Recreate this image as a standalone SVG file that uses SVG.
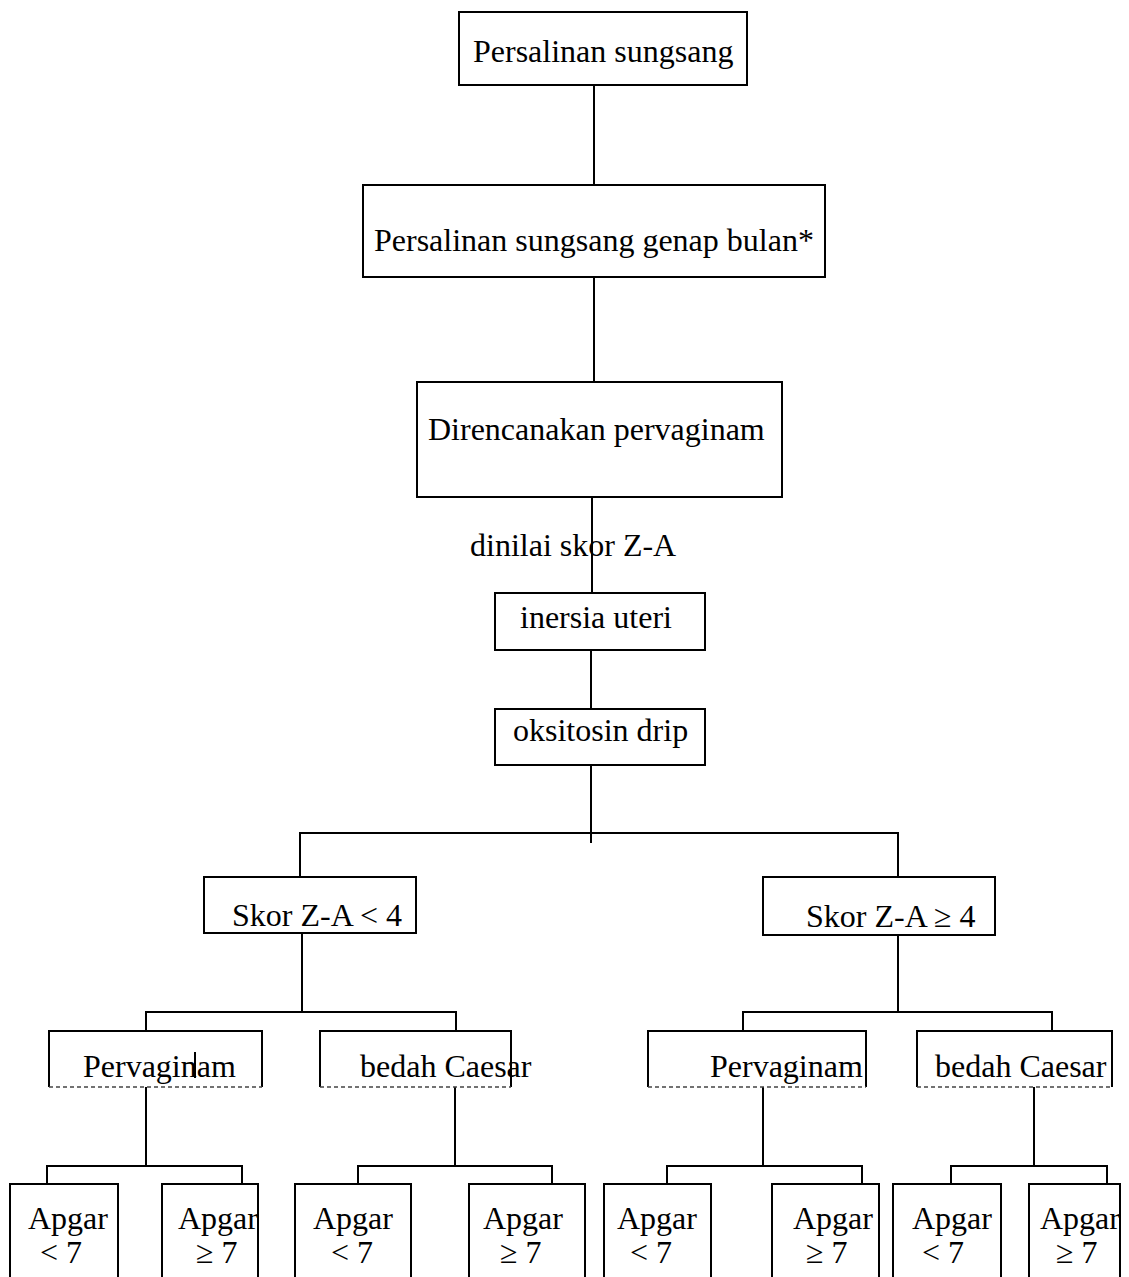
<svg xmlns="http://www.w3.org/2000/svg" width="1129" height="1277" viewBox="0 0 1129 1277">
  <style>
    .box { fill: #fff; stroke: #000; stroke-width: 2; }
    .open { fill: none; stroke: #000; stroke-width: 2; }
    .faint { fill: none; stroke: #444; stroke-width: 1.3; stroke-dasharray: 4 3; }
    .wire { fill: none; stroke: #000; stroke-width: 2; }
    text { font-family: "Liberation Serif", "Times New Roman", serif; font-size: 32px; fill: #000; }
  </style>
  <rect width="1129" height="1277" fill="#fff"/>

  <!-- connectors -->
  <g id="connectors">
    <path class="wire" d="M594 85 V185"/>
    <path class="wire" d="M594 277 V382"/>
    <path class="wire" d="M592 497 V593"/>
    <path class="wire" d="M591 650 V709"/>
    <path class="wire" d="M591 765 V843"/>
    <path class="wire" d="M300 877 V833 H898 V877"/>
    <path class="wire" d="M302 933 V1012"/>
    <path class="wire" d="M146 1031 V1012 H456 V1031"/>
    <path class="wire" d="M898 935 V1012"/>
    <path class="wire" d="M743 1031 V1012 H1052 V1031"/>
    <path class="wire" d="M195 1052 V1078"/>
    <path class="wire" d="M146 1087 V1166"/>
    <path class="wire" d="M47 1184 V1166 H242 V1184"/>
    <path class="wire" d="M455 1087 V1166"/>
    <path class="wire" d="M358 1184 V1166 H552 V1184"/>
    <path class="wire" d="M763 1087 V1166"/>
    <path class="wire" d="M667 1184 V1166 H862 V1184"/>
    <path class="wire" d="M1034 1087 V1166"/>
    <path class="wire" d="M951 1184 V1166 H1107 V1184"/>
  </g>

  <g id="n-persalinan">
    <rect class="box" x="459" y="12" width="288" height="73"/>
    <text x="473" y="62">Persalinan sungsang</text>
  </g>
  <g id="n-genap">
    <rect class="box" x="363" y="185" width="462" height="92"/>
    <text x="374" y="251">Persalinan sungsang genap bulan*</text>
  </g>
  <g id="n-pervaginam-plan">
    <rect class="box" x="417" y="382" width="365" height="115"/>
    <text x="428" y="440">Direncanakan pervaginam</text>
  </g>
  <g id="l-dinilai">
    <text x="470" y="556">dinilai skor Z-A</text>
  </g>
  <g id="n-inersia">
    <rect class="box" x="495" y="593" width="210" height="57"/>
    <text x="520" y="628">inersia uteri</text>
  </g>
  <g id="n-oksitosin">
    <rect class="box" x="495" y="709" width="210" height="56"/>
    <text x="513" y="741">oksitosin drip</text>
  </g>
  <g id="n-skor-lt4">
    <rect class="box" x="204" y="877" width="212" height="56"/>
    <text x="232" y="926">Skor Z-A &lt; 4</text>
  </g>
  <g id="n-skor-ge4">
    <rect class="box" x="763" y="877" width="232" height="58"/>
    <text x="806" y="927">Skor Z-A ≥ 4</text>
  </g>

  <!-- delivery method boxes (bottom edge printed faintly) -->
  <g id="n-pv-left">
    <path class="open" d="M49 1087 V1031 H262 V1087"/>
    <path class="faint" d="M49 1087 H262"/>
    <text x="83" y="1077">Pervaginam</text>
  </g>
  <g id="n-sc-left">
    <path class="open" d="M320 1087 V1031 H511 V1087"/>
    <path class="faint" d="M320 1087 H511"/>
    <text x="360" y="1077">bedah Caesar</text>
  </g>
  <g id="n-pv-right">
    <path class="open" d="M648 1087 V1031 H866 V1087"/>
    <path class="faint" d="M648 1087 H866"/>
    <text x="710" y="1077">Pervaginam</text>
  </g>
  <g id="n-sc-right">
    <path class="open" d="M917 1087 V1031 H1112 V1087"/>
    <path class="faint" d="M917 1087 H1112"/>
    <text x="935" y="1077">bedah Caesar</text>
  </g>

  <!-- Apgar outcome boxes, running off the lower edge -->
  <g id="n-a1">
    <path class="open" d="M10 1280 V1184 H118 V1280"/>
    <text x="28" y="1229">Apgar</text>
    <text x="40" y="1263">&lt; 7</text>
  </g>
  <g id="n-a2">
    <path class="open" d="M162 1280 V1184 H258 V1280"/>
    <text x="178" y="1229">Apgar</text>
    <text x="196" y="1263">≥ 7</text>
  </g>
  <g id="n-a3">
    <path class="open" d="M295 1280 V1184 H411 V1280"/>
    <text x="313" y="1229">Apgar</text>
    <text x="331" y="1263">&lt; 7</text>
  </g>
  <g id="n-a4">
    <path class="open" d="M469 1280 V1184 H585 V1280"/>
    <text x="483" y="1229">Apgar</text>
    <text x="500" y="1263">≥ 7</text>
  </g>
  <g id="n-a5">
    <path class="open" d="M604 1280 V1184 H711 V1280"/>
    <text x="617" y="1229">Apgar</text>
    <text x="630" y="1263">&lt; 7</text>
  </g>
  <g id="n-a6">
    <path class="open" d="M772 1280 V1184 H879 V1280"/>
    <text x="793" y="1229">Apgar</text>
    <text x="806" y="1263">≥ 7</text>
  </g>
  <g id="n-a7">
    <path class="open" d="M893 1280 V1184 H1001 V1280"/>
    <text x="912" y="1229">Apgar</text>
    <text x="922" y="1263">&lt; 7</text>
  </g>
  <g id="n-a8">
    <path class="open" d="M1029 1280 V1184 H1120 V1280"/>
    <text x="1040" y="1229">Apgar</text>
    <text x="1056" y="1263">≥ 7</text>
  </g>
</svg>
